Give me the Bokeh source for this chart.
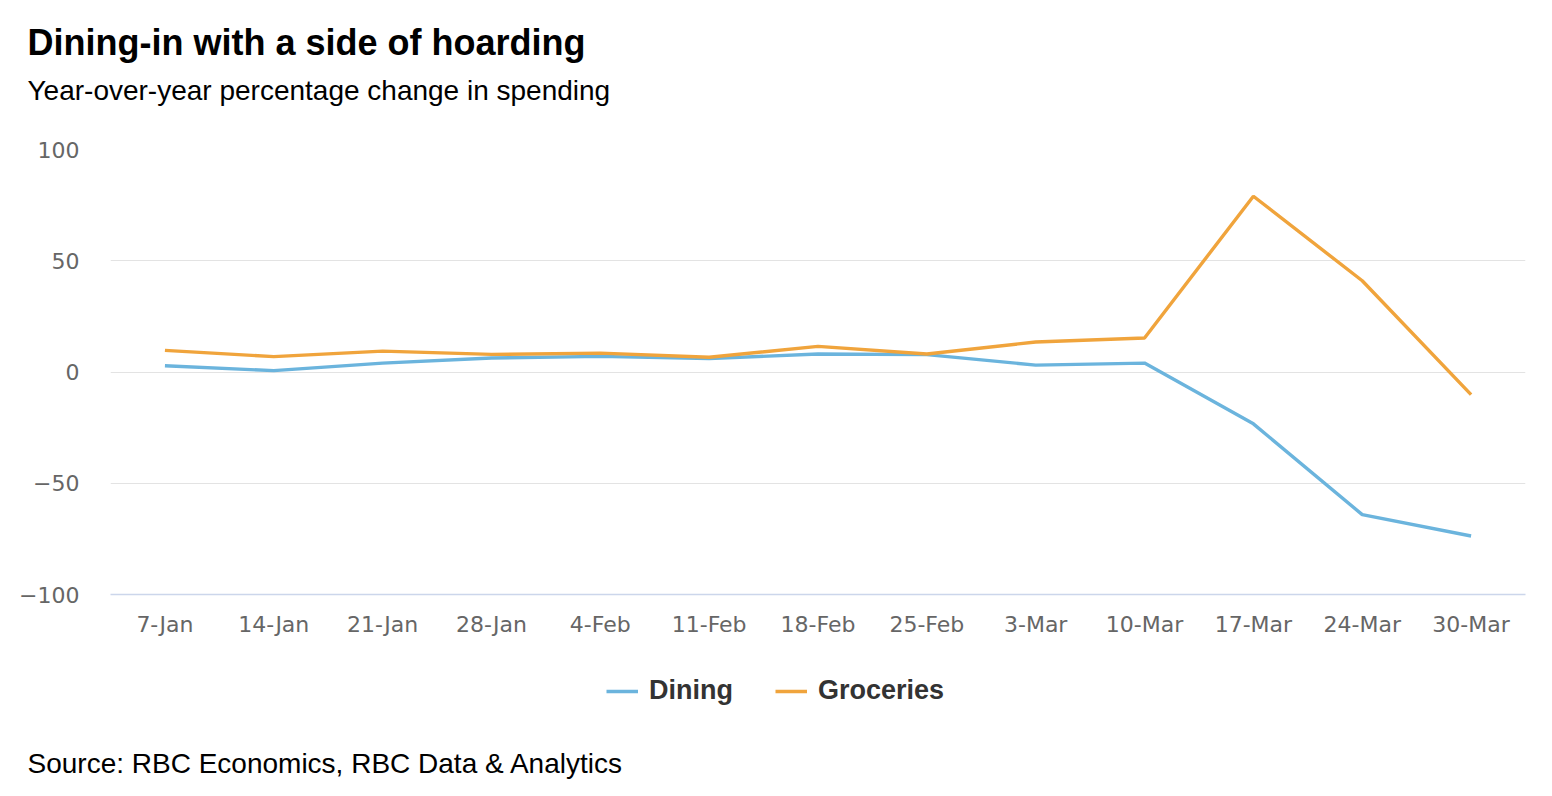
from bokeh.plotting import figure
from bokeh.layouts import column
from bokeh.models import Range1d, FactorRange, FixedTicker, Legend, LegendItem, Title
from bokeh.embed import file_html
from bokeh.resources import INLINE

# ---- data ----
weeks = ["7-Jan", "14-Jan", "21-Jan", "28-Jan", "4-Feb", "11-Feb", "18-Feb",
         "25-Feb", "3-Mar", "10-Mar", "17-Mar", "24-Mar", "30-Mar"]
dining = [2.8, 0.6, 4.0, 6.3, 7.0, 6.0, 8.1, 7.8, 3.1, 4.0, -23.3, -64.1, -73.7]
groceries = [9.7, 6.9, 9.4, 7.9, 8.5, 6.6, 11.5, 8.1, 13.5, 15.3, 79.0, 41.0, -10.2]
y_ticks = [-100, -50, 0, 50, 100]
series_names = ["Dining", "Groceries"]

title_text = "Dining-in with a side of hoarding"
subtitle_text = "Year-over-year percentage change in spending"
source_text = "Source: RBC Economics, RBC Data & Analytics"

BLUE = "#6bb4dd"
ORANGE = "#f0a43c"
LW = 3.4
W = 1536
LEFT, RIGHT = 110, 11
H_HEAD, H_MAIN, H_FOOT = 129, 521, 130


def bare(h, top, bottom):
    f = figure(width=W, height=h,
               x_range=FactorRange(factors=weeks, range_padding=0),
               y_range=Range1d(1000, 1001),
               output_backend="svg", toolbar_location=None,
               x_axis_type=None, y_axis_type=None,
               min_border_left=LEFT, min_border_right=RIGHT,
               min_border_top=top, min_border_bottom=bottom)
    f.outline_line_color = None
    f.xgrid.visible = False
    f.ygrid.visible = False
    return f


# ---- header: title + subtitle ----
head = bare(H_HEAD, 110, 0)
head.add_layout(Title(text=subtitle_text, text_font="Liberation Sans",
                      text_font_size="28px", text_font_style="normal",
                      text_color="#000000", align="left", offset=27 - LEFT,
                      standoff=10), "above")
head.add_layout(Title(text=title_text, text_font="Liberation Sans",
                      text_font_size="36px", text_font_style="bold",
                      text_color="#000000", align="left", offset=27 - LEFT,
                      standoff=10), "above")

# ---- main chart ----
p = figure(width=W, height=H_MAIN,
           x_range=FactorRange(factors=weeks, range_padding=0),
           y_range=Range1d(-100, 100),
           output_backend="svg", toolbar_location=None,
           min_border_left=LEFT, min_border_right=RIGHT,
           min_border_top=20, min_border_bottom=56)
p.outline_line_color = None

p.xgrid.visible = False
p.ygrid.grid_line_color = "#e3e3e3"
p.ygrid.grid_line_width = 1.2

p.yaxis.ticker = FixedTicker(ticks=y_ticks)
p.yaxis.axis_line_color = None
p.yaxis.major_tick_line_color = None
p.yaxis.minor_tick_line_color = None
p.yaxis.major_tick_out = 0
p.yaxis.major_tick_in = 0
p.yaxis.major_label_standoff = 31
p.yaxis.major_label_text_font = "DejaVu Sans"
p.yaxis.major_label_text_font_size = "22px"
p.yaxis.major_label_text_color = "#666666"

p.xaxis.axis_line_color = "#ccd6eb"
p.xaxis.axis_line_width = 1.5
p.xaxis.major_tick_line_color = None
p.xaxis.minor_tick_line_color = None
p.xaxis.major_tick_out = 0
p.xaxis.major_tick_in = 0
p.xaxis.major_label_standoff = 17
p.xaxis.major_label_text_font = "DejaVu Sans"
p.xaxis.major_label_text_font_size = "22px"
p.xaxis.major_label_text_color = "#666666"

p.line(weeks, dining, line_color=BLUE, line_width=LW)
p.line(weeks, groceries, line_color=ORANGE, line_width=LW)

# ---- footer: legend + source ----
foot = bare(H_FOOT, 0, 0)
# same series, drawn outside this panel's visible range; used for legend keys
k_d = foot.line(weeks, dining, line_color=BLUE, line_width=LW)
k_g = foot.line(weeks, groceries, line_color=ORANGE, line_width=LW)
legend = Legend(items=[LegendItem(label=series_names[0], renderers=[k_d]),
                       LegendItem(label=series_names[1], renderers=[k_g])],
                orientation="horizontal", location=(606 - LEFT, 37),
                glyph_width=32, glyph_height=30, label_standoff=11, spacing=42,
                padding=0, margin=0, border_line_color=None,
                background_fill_alpha=0,
                label_text_font="Liberation Sans", label_text_font_style="bold",
                label_text_font_size="27px", label_text_color="#333333")
foot.add_layout(legend, "center")
foot.add_layout(Title(text=source_text, text_font="Liberation Sans",
                      text_font_size="28px", text_font_style="normal",
                      text_color="#000000", align="left", offset=27 - LEFT,
                      standoff=4), "below")

layout = column(head, p, foot, spacing=0)
open("out.html", "w").write(file_html(layout, INLINE))
